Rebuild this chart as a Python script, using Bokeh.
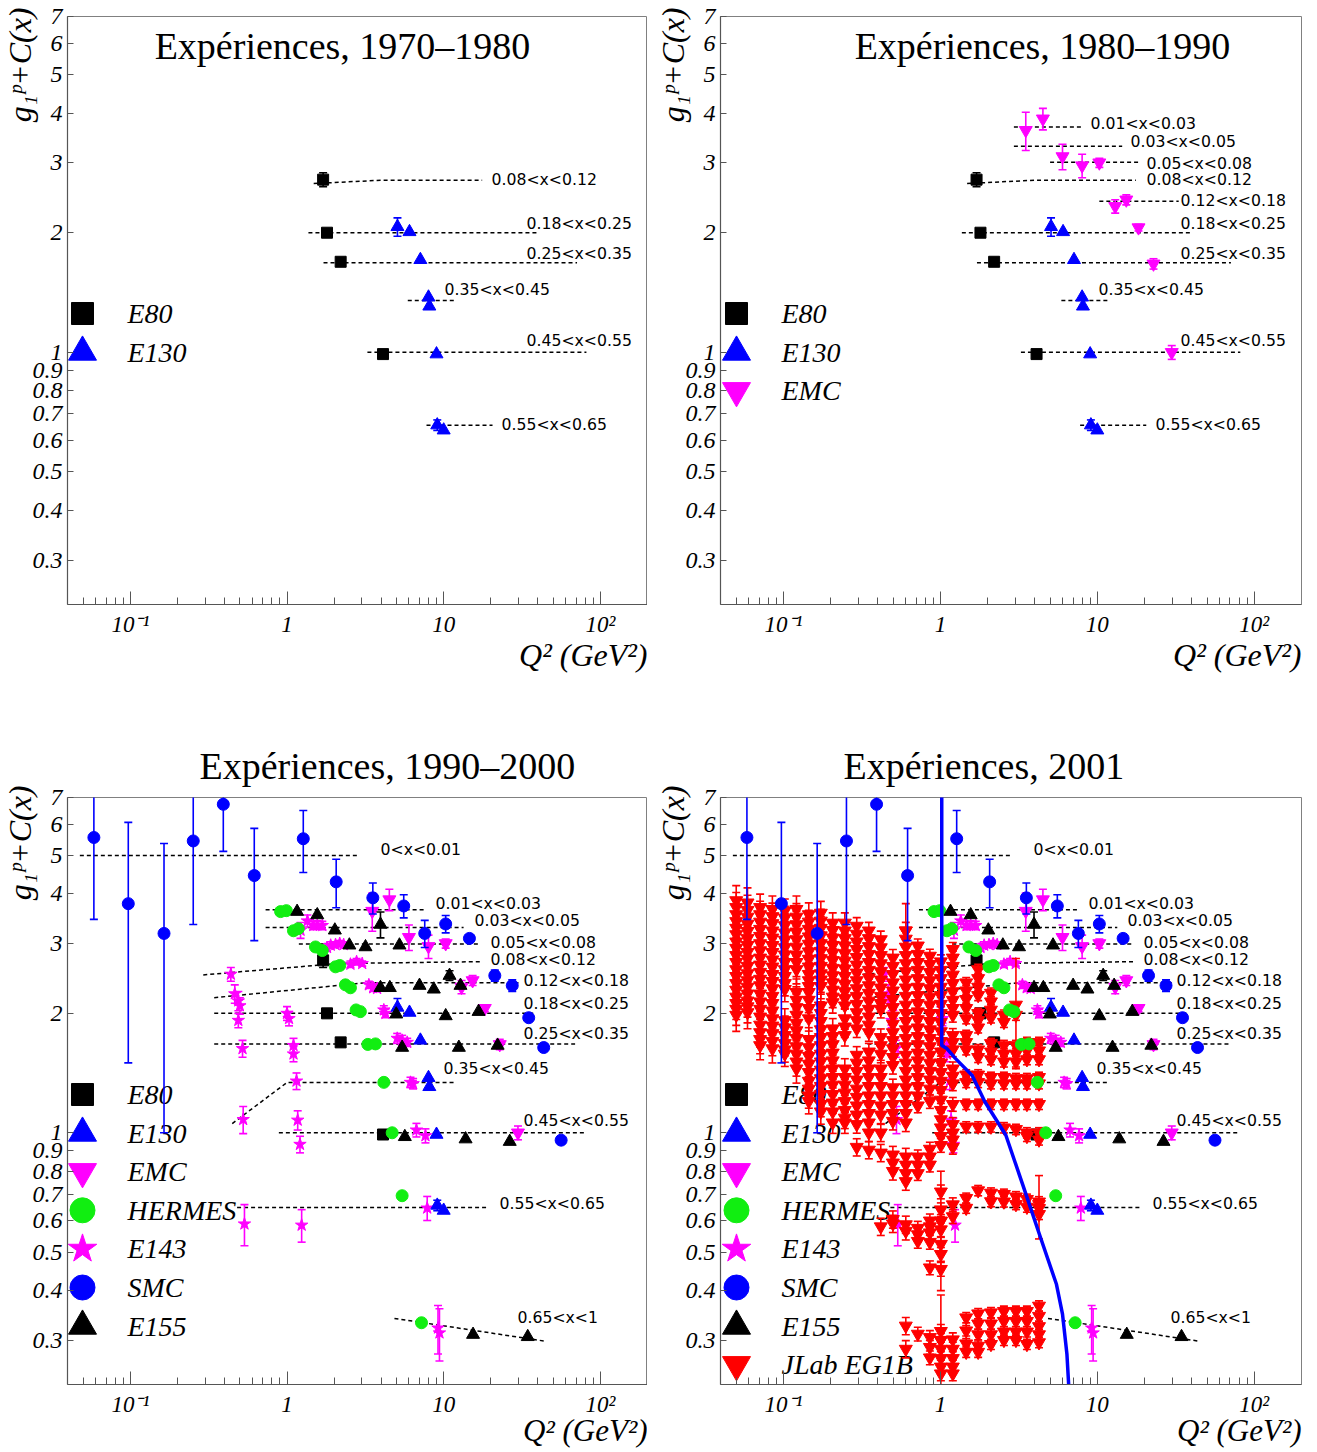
import numpy as np
from bokeh.plotting import figure
from bokeh.models import FixedTicker, CustomJSTickFormatter, Title
from bokeh.layouts import column, row
from bokeh.embed import file_html
from bokeh.resources import INLINE
from bokeh.core.properties import value

# ---------------------------------------------------------------- axes
x_range_q2 = [0.0397, 200.0]
y_range_g = [0.232, 7.0]
x_major = [0.1, 1, 10, 100]
x_minor = [0.05, 0.06, 0.07, 0.08, 0.09, 0.2, 0.3, 0.4, 0.5, 0.6, 0.7, 0.8, 0.9,
           2, 3, 4, 5, 6, 7, 8, 9, 20, 30, 40, 50, 60, 70, 80, 90]
y_ticks = [0.3, 0.4, 0.5, 0.6, 0.7, 0.8, 0.9, 1, 2, 3, 4, 5, 6, 7]
x_title = "Q\u00b2 (GeV\u00b2)"
y_title = "g\u2081\u1d56+C(x)"

panel_titles = ["Expériences, 1970–1980", "Expériences, 1980–1990",
                "Expériences, 1990–2000", "Expériences, 2001"]
legend_names = ["E80", "E130", "EMC", "HERMES", "E143", "SMC", "E155", "JLab EG1B"]

# ---------------------------------------------------------------- x-bin guide lines
top_bins = ["0.08<x<0.12", "0.18<x<0.25", "0.25<x<0.35", "0.35<x<0.45", "0.45<x<0.55", "0.55<x<0.65"]
top_line_q2 = [[1.48, 3.95, 17.6], [1.37, 39.7], [1.71, 71.0], [5.9, 11.9], [3.26, 81.5], [7.77, 20.5]]
top_line_g = [[2.66, 2.71, 2.71], [2.0, 2.0], [1.68, 1.68], [1.35, 1.35], [1.0, 1.0], [0.655, 0.655]]

emc_bins = ["0.01<x<0.03", "0.03<x<0.05", "0.05<x<0.08", "0.12<x<0.18"]
emc_line_q2 = [[2.94, 8.0], [2.94, 14.4], [5.0, 18.2], [10.3, 33.0]]
emc_line_g = [[3.69, 3.69], [3.30, 3.30], [3.01, 3.01], [2.40, 2.40]]

bottom_bins = ["0<x<0.01", "0.01<x<0.03", "0.03<x<0.05", "0.05<x<0.08", "0.08<x<0.12",
               "0.12<x<0.18", "0.18<x<0.25", "0.25<x<0.35", "0.35<x<0.45", "0.45<x<0.55",
               "0.55<x<0.65", "0.65<x<1"]
bottom_line_q2 = [[0.0476, 2.85], [0.73, 7.6], [0.73, 13.4], [1.19, 17.2], [0.292, 2.09, 17.2],
                  [0.343, 3.22, 30.9], [0.343, 38.0], [0.343, 69.0], [0.447, 1.0, 11.9],
                  [0.887, 80.0], [0.48, 18.9], [4.85, 43.5]]
bottom_line_g = [[5.0, 5.0], [3.65, 3.65], [3.29, 3.29], [2.99, 2.99], [2.50, 2.67, 2.70],
                 [2.19, 2.39, 2.39], [2.0, 2.0], [1.673, 1.673], [1.055, 1.339, 1.339],
                 [1.0, 1.0], [0.648, 0.648], [0.3405, 0.2987]]

# ---------------------------------------------------------------- experiments
e80_q2 = [1.7, 1.8, 2.2, 4.1]
e80_g = [2.72, 2.00, 1.69, 0.99]
e80_err = [0.11, 0, 0, 0]

e130_q2 = [5.07, 6.05, 7.1, 8.0, 8.1, 9.0, 9.1, 10.0]
e130_g = [2.07, 2.01, 1.71, 1.376, 1.306, 0.99, 0.656, 0.637]
e130_err = [0.11, 0, 0, 0, 0, 0, 0.02, 0]

emc_q2 = [3.5, 4.5, 6.0, 8.0, 10.3, 13.0, 15.3, 18.3, 22.8, 29.8]
emc_g = [3.62, 3.87, 3.11, 2.95, 3.0, 2.33, 2.42, 2.06, 1.67, 1.0]
emc_err = [0.40, 0.24, 0.23, 0.20, 0.08, 0.09, 0.07, 0.04, 0.05, 0.04]

hermes_q2 = [0.91, 0.99, 1.10, 1.18, 1.52, 1.68, 2.04, 2.17, 2.36, 2.54, 2.76, 2.94,
             3.28, 3.67, 4.15, 4.69, 5.43, 7.22]
hermes_g = [3.61, 3.63, 3.23, 3.27, 2.94, 2.88, 2.62, 2.64, 2.36, 2.32, 2.04, 2.02,
            1.67, 1.675, 1.34, 1.0, 0.694, 0.332]

e143_q2 = [1.35, 1.22, 1.47, 1.56, 1.68, 1.80, 1.90, 2.04, 2.17, 2.30, 2.54, 2.78, 3.02,
           0.438, 0.464, 0.489, 0.50, 0.489, 3.33, 3.55, 3.76, 1.0, 1.03, 4.15, 4.25,
           0.52, 1.10, 1.10, 5.05, 5.43, 5.85, 1.15, 6.14, 6.38,
           0.525, 1.17, 1.21, 6.7, 7.65, 0.535, 1.24, 7.85, 9.2, 9.4]
e143_g = [3.42, 3.24, 3.33, 3.34, 3.33, 2.93, 2.97, 2.98, 3.0, 2.98, 2.66, 2.70, 2.67,
          2.51, 2.24, 2.15, 2.09, 1.92, 2.36, 2.32, 2.31, 2.0, 1.94, 2.04, 2.0,
          1.63, 1.66, 1.58, 1.73, 1.71, 1.69, 1.35, 1.34, 1.33,
          1.08, 1.076, 0.935, 1.016, 0.983, 0.589, 0.585, 0.646, 0.322, 0.313]
e143_err = [0.12, 0.15, 0.08, 0.08, 0.08, 0.06, 0.06, 0.05, 0.05, 0.05, 0.05, 0.05, 0.04,
            0.10, 0.12, 0.12, 0.10, 0.08, 0.05, 0.05, 0.04, 0.08, 0.08, 0.05, 0.05,
            0.08, 0.07, 0.07, 0.05, 0.05, 0.04, 0.065, 0.04, 0.04,
            0.085, 0.06, 0.045, 0.04, 0.04, 0.07, 0.055, 0.045, 0.045, 0.047]

smc_q2 = [0.0585, 0.097, 0.164, 0.252, 0.392, 0.618, 1.27, 2.06, 3.53, 5.56, 7.57, 10.3,
          14.6, 21.2, 27.4, 34.9, 43.5, 56.2]
smc_g = [5.55, 3.78, 3.18, 5.44, 6.73, 4.45, 5.51, 4.29, 3.91, 3.73, 3.18, 3.36,
         3.09, 2.49, 2.35, 1.95, 1.64, 0.958]
smc_err = [2.1, 2.28, 2.18, 2.09, 1.61, 1.40, 0.98, 0.60, 0.35, 0.25, 0.25, 0.17,
           0.06, 0.08, 0.08, 0, 0, 0]

e155_q2 = [1.16, 1.56, 3.95, 2.02, 2.5, 3.17, 5.22, 3.95, 4.53, 7.01, 8.65, 10.9, 12.8,
           4.98, 10.3, 16.7, 5.43, 12.5, 22.1, 5.65, 13.8, 26.4, 15.4, 34.4]
e155_g = [3.61, 3.54, 3.35, 3.24, 2.97, 2.94, 2.97, 2.32, 2.32, 2.35, 2.30, 2.49, 2.35,
          1.99, 1.97, 2.02, 1.64, 1.64, 1.66, 0.977, 0.964, 0.95, 0.31, 0.306]
e155_err = [0, 0, 0.25, 0, 0, 0, 0, 0, 0, 0, 0, 0.07, 0,
            0, 0, 0, 0, 0, 0, 0, 0, 0, 0, 0]

# JLab EG1B : one list of g values per Q2 column
jlab_q2 = [0.050, 0.059, 0.071, 0.085, 0.102, 0.121, 0.145, 0.173, 0.206, 0.246, 0.293,
           0.350, 0.417, 0.498, 0.602, 0.718, 0.857, 1.007, 1.20, 1.46, 1.74, 2.10,
           2.54, 3.03, 3.56, 4.25]
jlab_g = [
    [3.85, 3.70, 3.55, 3.41, 3.28, 3.16, 3.03, 2.92, 2.80, 2.69, 2.58, 2.48, 2.38, 2.29, 2.20, 2.12, 2.05, 1.98],
    [3.80, 3.64, 3.50, 3.36, 3.22, 3.09, 2.97, 2.85, 2.74, 2.63, 2.52, 2.42, 2.33, 2.24, 2.15, 2.08, 2.01],
    [3.70, 3.55, 3.40, 3.26, 3.13, 3.00, 2.88, 2.76, 2.65, 2.54, 2.44, 2.35, 2.24, 2.14, 2.05, 1.96, 1.87, 1.79, 1.72, 1.66],
    [3.66, 3.51, 3.37, 3.23, 3.10, 2.97, 2.85, 2.73, 2.62, 2.51, 2.41, 2.31, 2.21, 2.12, 2.03, 1.94, 1.86, 1.78, 1.70, 1.63],
    [3.63, 3.48, 3.33, 3.19, 3.06, 2.93, 2.81, 2.69, 2.58, 2.48, 2.38, 2.30, 1.92, 1.84, 1.76, 1.68, 1.62, 1.58],
    [3.66, 3.50, 3.35, 3.21, 3.07, 2.94, 2.81, 2.69, 2.58, 2.26, 2.16, 2.07, 1.98, 1.89, 1.81, 1.73, 1.65, 1.58, 1.51, 1.45],
    [3.55, 3.40, 3.26, 3.12, 2.99, 2.86, 2.74, 2.62, 2.51, 2.42, 2.34, 2.26, 2.16, 2.06, 1.94, 1.72, 1.64, 1.56, 1.49, 1.42, 1.35, 1.29, 1.24, 1.20],
    [3.58, 3.42, 3.28, 3.14, 3.00, 2.87, 2.75, 2.63, 2.52, 2.43, 2.34, 2.09, 2.00, 1.91, 1.82, 1.74, 1.66, 1.58, 1.51, 1.44, 1.37, 1.31, 1.25, 1.18, 1.13],
    [3.38, 3.24, 3.10, 2.97, 2.84, 2.72, 2.60, 2.49, 2.39, 2.29, 2.20, 2.13, 1.83, 1.75, 1.67, 1.59, 1.52, 1.45, 1.38, 1.32, 1.25, 1.19, 1.13, 1.06],
    [3.38, 3.23, 3.09, 2.96, 2.83, 2.71, 2.59, 2.48, 2.37, 2.27, 2.18, 2.09, 1.94, 1.85, 1.76, 1.45, 1.38, 1.32, 1.26, 1.20, 1.14, 1.09, 1.06],
    [3.32, 3.17, 3.03, 2.90, 2.77, 2.65, 2.53, 2.42, 2.31, 2.21, 2.11, 2.01, 1.92, 1.83, 1.57, 1.50, 1.43, 1.36, 1.29, 1.23, 1.17, 1.11, 1.05, 0.92],
    [3.23, 3.09, 2.95, 2.82, 2.69, 2.57, 2.46, 2.35, 2.25, 2.15, 2.05, 1.96, 1.87, 1.79, 1.60, 1.52, 1.45, 1.38, 1.31, 1.24, 1.18, 1.12, 1.06, 1.0, 0.905],
    [3.07, 2.93, 2.80, 2.67, 2.55, 2.43, 2.32, 2.21, 2.12, 2.05, 1.74, 1.66, 1.58, 1.45, 1.38, 1.31, 1.24, 1.17, 1.11, 1.0, 0.89, 0.58],
    [2.76, 2.63, 2.51, 2.39, 2.28, 2.17, 2.07, 1.97, 1.88, 1.79, 1.71, 1.63, 1.55, 1.48, 1.30, 1.24, 1.18, 1.12, 1.07, 0.88, 0.84, 0.80, 0.605, 0.59],
    [3.23, 3.08, 2.94, 2.80, 2.67, 2.55, 2.43, 2.32, 2.21, 2.10, 2.00, 1.91, 1.82, 1.73, 1.65, 1.57, 1.50, 1.43, 1.36, 1.30, 1.24, 1.18, 1.12, 1.06, 0.87, 0.83, 0.79, 0.754, 0.587, 0.565, 0.326, 0.285],
    [2.96, 2.82, 2.69, 2.57, 2.45, 2.33, 2.22, 2.12, 2.02, 1.93, 1.84, 1.75, 1.67, 1.59, 1.52, 1.45, 1.38, 1.31, 1.24, 1.17, 0.87, 0.83, 0.79, 0.575, 0.554, 0.533, 0.311],
    [2.79, 2.66, 2.54, 2.42, 2.31, 2.20, 2.10, 2.00, 1.91, 1.82, 1.73, 1.65, 1.57, 1.50, 1.43, 1.36, 1.29, 1.20, 0.91, 0.87, 0.83, 0.60, 0.58, 0.56, 0.53, 0.457, 0.305, 0.288, 0.271],
    [2.70, 2.57, 2.45, 2.33, 2.22, 2.11, 2.00, 1.90, 1.80, 1.70, 1.60, 1.50, 1.42, 1.35, 1.28, 1.21, 1.14, 1.08, 1.03, 0.98, 0.93, 0.71, 0.64, 0.598, 0.57, 0.524, 0.494, 0.453, 0.316, 0.300, 0.285, 0.270, 0.257, 0.247],
    [2.90, 2.76, 2.63, 2.50, 2.38, 2.27, 2.16, 2.06, 1.98, 1.76, 1.69, 1.62, 1.45, 1.39, 1.33, 1.18, 1.05, 1.0, 0.96, 0.92, 0.659, 0.615, 0.301, 0.285, 0.270, 0.257, 0.247],
    [2.39, 2.28, 2.17, 2.06, 1.94, 1.76, 1.69, 1.62, 1.40, 1.34, 1.18, 1.035, 0.684, 0.646, 0.342, 0.317, 0.294, 0.280],
    [2.58, 2.45, 2.33, 2.22, 2.00, 1.92, 1.84, 1.62, 1.55, 1.40, 1.34, 1.18, 1.035, 0.715, 0.350, 0.330, 0.310, 0.290, 0.280],
    [2.25, 2.14, 2.04, 1.95, 1.68, 1.60, 1.53, 1.38, 1.33, 1.18, 1.035, 0.705, 0.671, 0.352, 0.330, 0.310, 0.293],
    [1.98, 1.90, 1.66, 1.58, 1.51, 1.38, 1.33, 1.18, 1.03, 0.700, 0.670, 0.355, 0.335, 0.315, 0.300],
    [1.98, 1.66, 1.58, 1.51, 1.37, 1.33, 1.18, 1.02, 0.690, 0.660, 0.355, 0.335, 0.315, 0.300],
    [1.69, 1.61, 1.53, 1.37, 1.33, 1.18, 1.00, 0.98, 0.680, 0.650, 0.355, 0.335, 0.315, 0.293],
    [1.69, 1.61, 1.53, 1.38, 1.33, 1.18, 1.00, 0.96, 0.670, 0.645, 0.623, 0.366, 0.345, 0.325, 0.310, 0.296],
]
jlab_relerr = [0.09, 0.09, 0.08, 0.08, 0.07, 0.08, 0.07, 0.07, 0.06, 0.06, 0.05, 0.05, 0.05,
               0.05, 0.05, 0.04, 0.04, 0.04, 0.04, 0.03, 0.03, 0.03, 0.03, 0.03, 0.03, 0.03]
jlab_extra_q2 = [0.602, 1.007, 1.007, 3.03, 4.25]
jlab_extra_g = [3.23, 0.60, 0.30, 2.10, 0.66]
jlab_extra_err = [0.55, 0.20, 0.09, 0.65, 0.12]

# model curve (2001 panel)
curve_q2 = [1.02, 1.02, 1.10, 1.245, 1.594, 1.92, 2.31, 2.61, 3.35, 4.28, 5.49, 6.0, 6.4, 6.6]
curve_g = [8.0, 1.66, 1.63, 1.54, 1.395, 1.197, 1.066, 0.987, 0.739, 0.554, 0.415, 0.349, 0.277, 0.224]

# ---------------------------------------------------------------- styles
STYLE = {
    "E80": ("square", "#000000", 11, 22),
    "E130": ("triangle", "#0000ff", 13, 28),
    "EMC": ("inverted_triangle", "#ff00ff", 13, 28),
    "HERMES": ("circle", "#11ee11", 12, 25),
    "E143": ("star", "#ff00ff", 13, 30),
    "SMC": ("circle", "#0000ff", 12, 25),
    "E155": ("triangle", "#000000", 13, 28),
    "JLab EG1B": ("inverted_triangle", "#ff0000", 13, 28),
}
SERIF = "Liberation Serif"
SANS = "DejaVu Sans"
LX0, LX1 = np.log10(x_range_q2[0]), np.log10(x_range_q2[1])
LY0, LY1 = np.log10(y_range_g[0]), np.log10(y_range_g[1])


def side_title(text, align, standoff, offset=0, size="32px"):
    return Title(text=text, align=align, standoff=standoff, offset=offset,
                 text_font=SERIF, text_font_size=size, text_font_style="italic",
                 text_color="black")


def make_panel(fw, fh, bl, br, bt, bb, xlab_standoff, xlab_size, ylab_offset):
    p = figure(width=bl + fw + br, height=bt + fh + bb, x_axis_type="log", y_axis_type="log",
               x_range=(x_range_q2[0], x_range_q2[1]), y_range=(y_range_g[0], y_range_g[1]),
               output_backend="svg", toolbar_location=None,
               min_border_left=bl, min_border_right=br, min_border_top=bt, min_border_bottom=bb)
    p.title.visible = False
    p.grid.visible = False
    p.outline_line_color = "#808080"
    p.outline_line_width = 1
    p.background_fill_color = "white"
    p.border_fill_color = "white"
    p.xaxis.ticker = FixedTicker(ticks=x_major, minor_ticks=x_minor)
    p.xaxis.formatter = CustomJSTickFormatter(code="""
        const m = {"0.1": "10\u207b\u00b9", "1": "1", "10": "10", "100": "10\u00b2"};
        const s = String(tick);
        return (s in m) ? m[s] : s;""")
    p.yaxis.ticker = FixedTicker(ticks=y_ticks, minor_ticks=[])
    p.yaxis.formatter = CustomJSTickFormatter(code="return String(tick);")
    for ax in (p.xaxis[0], p.yaxis[0]):
        ax.axis_line_color = "#555555"
        ax.axis_line_width = 1.2
        ax.major_tick_line_color = "#555555"
        ax.minor_tick_line_color = "#555555"
        ax.major_tick_out = 0
        ax.minor_tick_out = 0
        ax.major_label_text_font = SERIF
        ax.major_label_text_font_style = "italic"
        ax.major_label_text_color = "black"
    xa, ya = p.xaxis[0], p.yaxis[0]
    xa.major_label_text_font_size = "23px"
    xa.major_tick_in = 13
    xa.minor_tick_in = 7
    xa.major_label_standoff = 7
    ya.major_label_text_font_size = "24px"
    ya.major_tick_in = 6
    ya.minor_tick_line_color = None
    ya.major_label_standoff = 5
    p.add_layout(side_title(x_title, "right", xlab_standoff, size=xlab_size), "below")
    p.add_layout(side_title(y_title, "right", -17, ylab_offset), "left")
    p._fw, p._fh = fw, fh
    return p


def xd(p, px):
    return 10 ** (LX0 + px / p._fw * (LX1 - LX0))


def yd(p, py):
    return 10 ** (LY1 - py / p._fh * (LY1 - LY0))


def glyph_text(p, x, y, s, font, size, style="normal", align="left", baseline="middle"):
    p.text(x=[x], y=[y], text=[s], text_font=value(font), text_font_size=size,
           text_font_style=style, text_align=align, text_baseline=baseline, text_color="black")


def series(p, name, q2, g, err=None):
    marker, color, size, _ = STYLE[name]
    x = np.asarray(q2, float)
    y = np.asarray(g, float)
    if err is not None:
        e = np.asarray(err, float)
        m = e > 0
        if m.any():
            p.segment(x0=x[m], y0=y[m] - e[m], x1=x[m], y1=y[m] + e[m], line_color=color, line_width=1.6)
            p.scatter(x=np.r_[x[m], x[m]], y=np.r_[y[m] - e[m], y[m] + e[m]], marker="dash",
                      size=8, line_color=color, line_width=1.6)
    p.scatter(x=x, y=y, marker=marker, size=size, fill_color=color, line_color=color)


def guide_lines(p, bins, q2s, gs, label_px):
    for b, q, g, (lx, ly) in zip(bins, q2s, gs, label_px):
        p.line(q, g, line_color="black", line_width=1.5, line_dash="4 3")
        glyph_text(p, xd(p, lx), yd(p, ly), b, SANS, "15.7px")


def legend(p, names, mx, tx):
    for i, n in enumerate(names):
        marker, color, _, lsize = STYLE[n]
        yy = yd(p, 297 + 38.6 * i)
        p.scatter(x=[xd(p, mx)], y=[yy], marker=marker, size=lsize, fill_color=color, line_color=color)
        glyph_text(p, xd(p, tx), yy, n, SERIF, "28px", style="italic")


def inner_title(p, title, dx, dy):
    glyph_text(p, xd(p, dx), yd(p, dy), title, SERIF, "38px", align="center")


def outer_title(p, title, offset):
    t = p.title
    t.visible = True
    t.text = title
    t.text_font = SERIF
    t.text_font_size = "38px"
    t.text_font_style = "normal"
    t.text_color = "black"
    t.align = "left"
    t.offset = offset
    t.standoff = 22


top_lab_left = [(424, 163), (459, 207), (459, 237), (377, 273), (459, 324), (434, 408)]
top_lab_right = [(426, 163), (460, 207), (460, 237), (378, 273), (460, 324), (435, 408)]
emc_lab_right = [(370, 107), (410, 125), (426, 147), (460, 184)]
bottom_lab = [(313, 52), (368, 106), (407, 123), (423, 145), (423, 162), (456, 183), (456, 206),
              (456, 236), (376, 271), (456, 323), (432, 406), (450, 520)]

# ---------------------------------------------------------------- panel 1
p1 = make_panel(580, 588, 67, 0, 16, 100, -9, "32px", -9)
inner_title(p1, panel_titles[0], 275, 29)
legend(p1, legend_names[:2], 15, 60)
guide_lines(p1, top_bins, top_line_q2, top_line_g, top_lab_left)
series(p1, "E80", e80_q2, e80_g, e80_err)
series(p1, "E130", e130_q2, e130_g, e130_err)

# ---------------------------------------------------------------- panel 2
p2 = make_panel(581, 588, 73, 6, 16, 100, -9, "32px", -9)
inner_title(p2, panel_titles[1], 322, 29)
legend(p2, legend_names[:3], 16, 61)
guide_lines(p2, top_bins, top_line_q2, top_line_g, top_lab_right)
guide_lines(p2, emc_bins, emc_line_q2, emc_line_g, emc_lab_right)
series(p2, "E80", e80_q2, e80_g, e80_err)
series(p2, "E130", e130_q2, e130_g, e130_err)
series(p2, "EMC", emc_q2, emc_g, emc_err)

# ---------------------------------------------------------------- panel 3
p3 = make_panel(580, 587, 67, 0, 93, 66, -17, "31px", -12)
outer_title(p3, panel_titles[2], 132)
legend(p3, legend_names[:7], 15, 60)
guide_lines(p3, bottom_bins, bottom_line_q2, bottom_line_g, bottom_lab)
series(p3, "E80", e80_q2, e80_g, e80_err)
series(p3, "E143", e143_q2, e143_g, e143_err)
series(p3, "E130", e130_q2, e130_g, e130_err)
series(p3, "EMC", emc_q2, emc_g, emc_err)
series(p3, "HERMES", hermes_q2, hermes_g)
series(p3, "SMC", smc_q2, smc_g, smc_err)
series(p3, "E155", e155_q2, e155_g, e155_err)

# ---------------------------------------------------------------- panel 4
p4 = make_panel(581, 587, 73, 6, 93, 66, -17, "31px", -12)
outer_title(p4, panel_titles[3], 123)
legend(p4, legend_names, 16, 61)
guide_lines(p4, bottom_bins, bottom_line_q2, bottom_line_g, bottom_lab)
series(p4, "E80", e80_q2, e80_g, e80_err)
series(p4, "E143", e143_q2, e143_g, e143_err)
jq, jg, je = [], [], []
for q, col, rel in zip(jlab_q2, jlab_g, jlab_relerr):
    for g in col:
        jq.append(q)
        jg.append(g)
        je.append(g * rel)
series(p4, "JLab EG1B", jlab_extra_q2, jlab_extra_g, jlab_extra_err)
series(p4, "JLab EG1B", jq, jg, je)
series(p4, "E130", e130_q2, e130_g, e130_err)
series(p4, "EMC", emc_q2, emc_g, emc_err)
series(p4, "HERMES", hermes_q2, hermes_g)
series(p4, "SMC", smc_q2, smc_g, smc_err)
series(p4, "E155", e155_q2, e155_g, e155_err)
p4.line(curve_q2, curve_g, line_color="#0000ff", line_width=3.5)

layout = column(row(p1, p2), row(p3, p4))
open("out.html", "w").write(file_html(layout, INLINE))
